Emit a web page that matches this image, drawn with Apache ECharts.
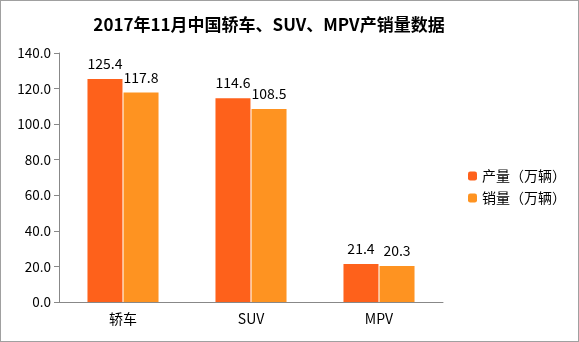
<!DOCTYPE html>
<html>
<head>
<meta charset="utf-8">
<script src="https://cdn.jsdelivr.net/npm/echarts@6/dist/echarts.min.js"></script>
<style>
  html, body { margin: 0; padding: 0; background: #fff; }
  #chart { width: 577px; height: 340px; border: 1px solid #a0a0a0; }
</style>
</head>
<body>
<div id="chart"></div>
<script>
const categories = ['轿车', 'SUV', 'MPV'];
const production = [125.4, 114.6, 21.4];
const sales = [117.8, 108.5, 20.3];
const seriesNames = ['产量（万辆）', '销量（万辆）'];

const font = '"Microsoft YaHei", "Noto Sans CJK SC", sans-serif';
const chart = echarts.init(document.getElementById('chart'));
chart.setOption({
  animation: false,
  title: {
    text: '2017年11月中国轿车、SUV、MPV产销量数据',
    left: 263, top: 10, textAlign: 'center',
    textStyle: { fontSize: 17, fontWeight: 'bold', color: '#000', fontFamily: font }
  },
  legend: {
    orient: 'vertical', left: 462, top: 163,
    itemWidth: 9, itemHeight: 9, itemGap: 8,
    textStyle: { fontSize: 14, color: '#000', fontFamily: font },
    data: seriesNames
  },
  grid: { left: 58, right: 135, top: 52, bottom: 39 },
  xAxis: {
    type: 'category', data: categories,
    axisLine: { lineStyle: { color: '#888' } },
    axisTick: { length: 5, lineStyle: { color: '#888' } },
    axisLabel: { fontSize: 14, color: '#000', margin: 10, fontFamily: font }
  },
  yAxis: {
    type: 'value', min: 0, max: 140, interval: 20,
    axisLine: { show: true, lineStyle: { color: '#888' } },
    axisTick: { show: true, length: 5, lineStyle: { color: '#888' } },
    splitLine: { show: false },
    axisLabel: { fontSize: 13.5, color: '#000', margin: 8, fontFamily: font,
      formatter: v => v.toFixed(1) }
  },
  series: [
    { name: seriesNames[0], type: 'bar', data: production, barWidth: 35, barGap: '3%',
      itemStyle: { color: '#FE611B' },
      label: { show: true, position: 'top', distance: 8, fontSize: 14, color: '#000', fontFamily: font,
        formatter: p => p.value.toFixed(1) } },
    { name: seriesNames[1], type: 'bar', data: sales, barWidth: 35,
      itemStyle: { color: '#FE9321' },
      label: { show: true, position: 'top', distance: 8, fontSize: 14, color: '#000', fontFamily: font,
        formatter: p => p.value.toFixed(1) } }
  ]
});
</script>
</body>
</html>
